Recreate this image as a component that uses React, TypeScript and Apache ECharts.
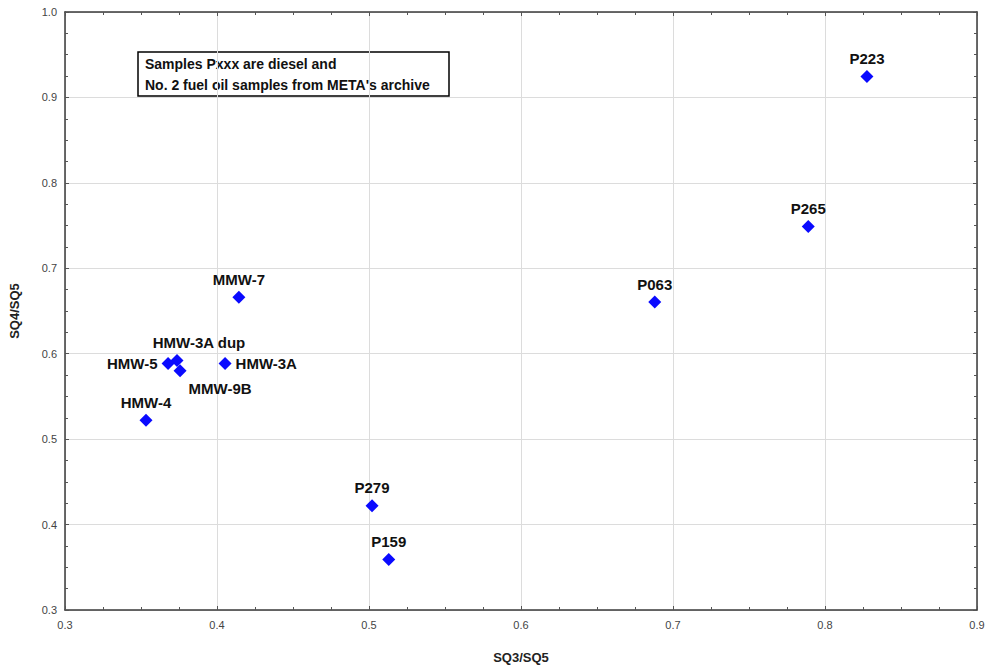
import React, { useEffect, useRef } from "react";
import * as echarts from "echarts";

const sampleNames = ["P223", "P265", "P063", "MMW-7", "HMW-3A", "HMW-3A dup", "HMW-5", "MMW-9B", "HMW-4", "P279", "P159"];
const sq3sq5 = [0.8276, 0.789, 0.688, 0.4144, 0.4053, 0.3737, 0.3678, 0.3757, 0.3533, 0.502, 0.513];
const sq4sq5 = [0.9244, 0.749, 0.6605, 0.666, 0.5884, 0.592, 0.5884, 0.580, 0.522, 0.422, 0.359];
const labelPlacement = ["top", "top", "top", "top", "right", "top", "left", "bottom", "top", "top", "top"];
const labelShift: number[][] = [[0, 0], [0, 0], [0, 0], [0, 0], [0, 0], [22, 0], [0, 0], [40, 0], [0, 0], [0, 0], [0, 0]];

const xTicks = [0.3, 0.9, 0.1];
const yTicks = [0.3, 1.0, 0.1];
const noteLines = ["Samples Pxxx are diesel and", "No. 2 fuel oil samples from META's archive"];

export default function App() {
  const ref = useRef<HTMLDivElement>(null);
  useEffect(() => {
    if (!ref.current) return;
    const chart = echarts.init(ref.current, null, { renderer: "svg" });
    const font = "'Liberation Sans', Arial, sans-serif";
    const axisCommon = (isX: boolean, main: boolean) => ({
      min: isX ? xTicks[0] : yTicks[0],
      max: isX ? xTicks[1] : yTicks[1],
      interval: isX ? xTicks[2] : yTicks[2],
      axisLine: { show: true, onZero: false, lineStyle: { color: "#3a3a3a", width: 1.5 } },
      axisTick: { show: true, inside: true, length: 4, lineStyle: { color: "#555" } },
      minorTick: { show: true, splitNumber: 4, length: 3, lineStyle: { color: "#555" } },
      splitLine: { show: main, lineStyle: { color: "#dcdcdc", width: 1 } },
      axisLabel: {
        show: main,
        color: "#444",
        fontSize: 11,
        fontFamily: font,
        margin: isX ? 9 : 8,
        formatter: (v: number) => v.toFixed(1),
      },
    });
    const data = sq3sq5.map((x, i) => ({
      value: [x, sq4sq5[i]],
      name: sampleNames[i],
      label: {
        position: labelPlacement[i],
        offset: labelShift[i],
      },
    }));
    chart.setOption({
      animation: false,
      backgroundColor: "#ffffff",
      grid: { left: 63, right: 15, top: 12, bottom: 53, containLabel: false },
      xAxis: [
        {
          type: "value",
          position: "bottom",
          ...axisCommon(true, true),
          name: "SQ3/SQ5",
          nameLocation: "middle",
          nameGap: 41,
          nameTextStyle: { fontSize: 13, fontWeight: "bold", color: "#222", fontFamily: font },
        },
        { type: "value", position: "top", ...axisCommon(true, false) },
      ],
      yAxis: [
        {
          type: "value",
          position: "left",
          ...axisCommon(false, true),
          name: "SQ4/SQ5",
          nameLocation: "middle",
          nameGap: 44,
          nameTextStyle: { fontSize: 13, fontWeight: "bold", color: "#222", fontFamily: font },
        },
        { type: "value", position: "right", ...axisCommon(false, false) },
      ],
      series: [
        {
          type: "scatter",
          symbol: "diamond",
          symbolSize: 13,
          itemStyle: { color: "#0a0aff", opacity: 1 },
          label: {
            show: true,
            formatter: "{b}",
            distance: 4,
            fontSize: 15,
            fontWeight: "bold",
            color: "#111",
            fontFamily: font,
          },
          data,
        },
      ],
      graphic: [
        {
          type: "rect",
          shape: { x: 138, y: 52, width: 311, height: 44 },
          style: { fill: "#fff", stroke: "#000", lineWidth: 1.5 },
        },
        {
          type: "text",
          x: 145,
          y: 53,
          style: {
            text: noteLines.join("\n"),
            fontSize: 14,
            fontWeight: "bold",
            fontFamily: font,
            fill: "#111",
            lineHeight: 21,
          },
        },
      ],
    });
    return () => chart.dispose();
  }, []);
  return <div ref={ref} style={{ width: 992, height: 669, position: "absolute", left: 0, top: 0 }} />;
}
